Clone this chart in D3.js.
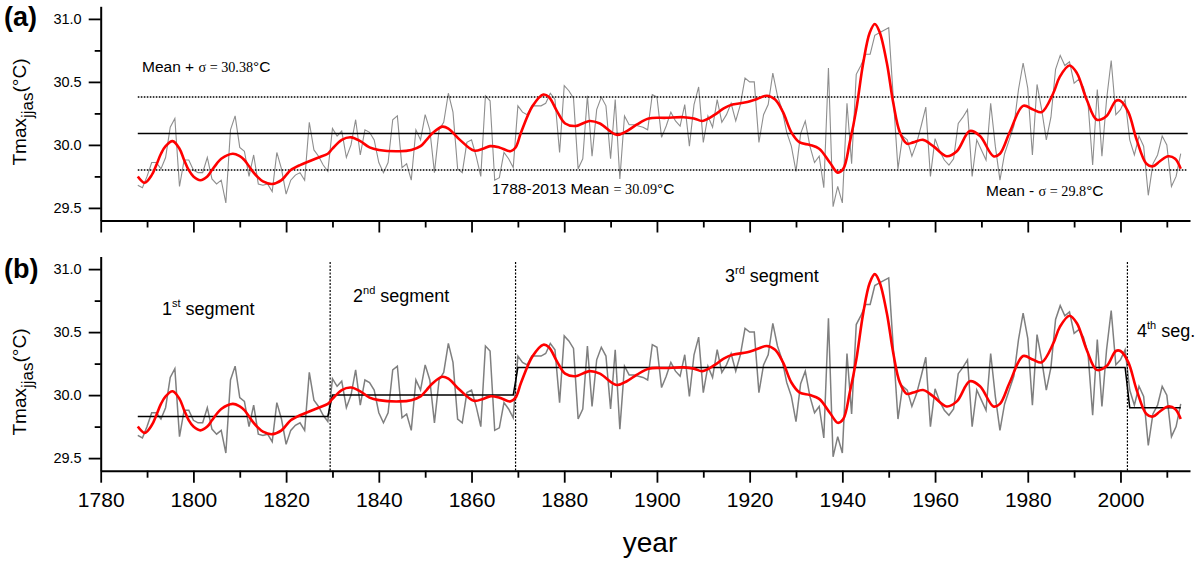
<!DOCTYPE html>
<html>
<head>
<meta charset="utf-8">
<script src="https://cdn.jsdelivr.net/npm/d3@7"></script>
<style>
  body { margin: 0; background: #fff; }
  svg { display: block; font-family: "Liberation Sans", Arial, sans-serif; }
  text { white-space: pre; }
</style>
</head>
<body>
<script>
// annual JJAS Tmax, 1788-2013
const firstYear = 1788;
const tmax = [
  29.68, 29.66,
  29.75, 29.86, 29.86, 29.81, 29.90, 30.14, 30.21, 29.67, 29.88, 29.88,
  29.80, 29.78, 29.78, 29.90, 29.73, 29.69, 29.72, 29.54, 30.12, 30.23,
  29.98, 29.95, 29.75, 29.92, 29.69, 29.68, 29.69, 29.63, 29.94, 29.81,
  29.61, 29.72, 29.76, 29.78, 29.72, 30.18, 29.96, 29.91, 29.84, 29.79,
  30.13, 30.07, 30.11, 29.90, 30.00, 30.20, 29.92, 30.12, 30.10, 30.04,
  29.86, 29.78, 29.86, 30.20, 30.23, 29.82, 29.85, 29.72, 30.12, 30.04,
  30.24, 30.12, 29.78, 30.12, 30.18, 30.41, 30.26, 29.81, 29.78, 30.02,
  30.04, 29.91, 29.75, 30.39, 30.35, 29.72, 29.74, 29.94, 29.89, 29.82,
  30.31, 30.26, 30.24, 30.31, 30.31, 30.31, 30.33, 30.41, 30.36, 29.94,
  30.47, 30.43, 30.37, 29.81, 29.89, 30.39, 29.91, 30.28, 30.38, 30.31,
  29.89, 30.36, 29.73, 30.23, 30.16, 30.16, 30.15, 30.14, 30.12, 30.40,
  30.38, 30.06, 30.15, 30.26, 30.19, 30.15, 30.32, 29.99, 30.32, 30.46,
  30.02, 30.23, 30.14, 30.36, 30.18, 30.24, 30.33, 30.19, 30.32, 30.53,
  30.50, 30.50, 30.02, 30.24, 30.32, 30.57, 30.39, 30.28, 30.10, 29.99,
  29.79, 30.09, 30.19, 29.99, 29.86, 29.91, 29.66, 30.61, 29.51, 29.67,
  29.54, 30.33, 29.85, 30.56, 30.63, 30.72, 30.72, 30.87, 30.89, 30.91,
  30.93, 30.37, 29.81, 30.07, 30.04, 29.91, 30.01, 30.15, 30.30, 29.75,
  30.05, 29.95, 29.88, 29.84, 29.89, 30.17, 30.22, 30.28, 29.75, 30.04,
  29.96, 29.88, 30.33, 29.99, 29.72, 29.93, 30.04, 30.15, 30.44, 30.65,
  30.45, 29.92, 30.48, 30.28, 30.04, 30.22, 30.60, 30.71, 30.63, 30.66,
  30.49, 30.52, 30.46, 30.33, 29.84, 30.44, 29.91, 30.36, 30.67, 30.24,
  30.28, 30.36, 30.04, 29.92, 30.07, 29.99, 29.60, 29.85, 29.92, 30.07,
  30.00, 29.67, 29.75, 29.93
];

// red smoothed curve, [year, value]
const smoothed = [
  [1788, 29.75], [1789.5, 29.70], [1791, 29.76], [1792, 29.84], [1793, 29.93],
  [1794, 29.99], [1795.5, 30.03], [1797, 29.97], [1798, 29.88], [1799, 29.80],
  [1800, 29.75], [1801.5, 29.72], [1803, 29.75], [1804, 29.80], [1805, 29.85],
  [1806, 29.89], [1808.5, 29.93], [1810, 29.91], [1811, 29.88], [1812, 29.83],
  [1813, 29.78], [1814, 29.74], [1815, 29.71], [1817, 29.69], [1819, 29.72],
  [1820, 29.76], [1821, 29.80], [1823, 29.84], [1825, 29.87], [1827, 29.90],
  [1829, 29.93], [1830, 29.97], [1832, 30.04], [1834, 30.06], [1836, 30.03],
  [1838, 29.98], [1840, 29.96], [1844.5, 29.95], [1847, 29.96], [1849, 29.99],
  [1850.3, 30.04], [1851.5, 30.09], [1853.7, 30.145], [1855, 30.13], [1857.5, 30.04],
  [1860.5, 29.955], [1862.5, 29.97], [1864, 29.99], [1866, 29.98], [1868.4, 29.95],
  [1869.5, 29.98], [1870.7, 30.10], [1873.2, 30.31], [1875.5, 30.40], [1876.7, 30.38],
  [1878.4, 30.27], [1880.2, 30.17], [1882.4, 30.15], [1885.5, 30.19], [1887.7, 30.17],
  [1891.3, 30.08], [1893.5, 30.11], [1895.6, 30.16], [1898.2, 30.21], [1902, 30.215],
  [1905.7, 30.22], [1908, 30.21], [1909.8, 30.19], [1912.5, 30.24], [1914.4, 30.29],
  [1916.3, 30.32], [1919.5, 30.34], [1921.6, 30.365], [1923.7, 30.39], [1925.5, 30.36],
  [1927.2, 30.26], [1929, 30.10], [1930.8, 30.02], [1933, 30.00], [1935, 29.97],
  [1937.3, 29.86], [1939, 29.78], [1940.2, 29.81], [1941.6, 30.02], [1943, 30.28],
  [1944.5, 30.65], [1945.9, 30.89], [1947, 30.96], [1948, 30.90], [1949.6, 30.65],
  [1951, 30.33], [1952.4, 30.10], [1953.9, 30.01], [1955.3, 30.02], [1957.4, 30.04],
  [1959.6, 29.99], [1962.5, 29.91], [1964.7, 29.95], [1967.5, 30.11], [1969.7, 30.07],
  [1972.6, 29.91], [1974, 29.93], [1976.1, 30.10], [1979, 30.31], [1981.2, 30.28],
  [1983, 30.26], [1985.5, 30.41], [1986.9, 30.54], [1989, 30.63], [1990.6, 30.57],
  [1992.7, 30.36], [1994.9, 30.20], [1997, 30.23], [1999, 30.35], [2000, 30.35],
  [2001.7, 30.26], [2003.5, 30.04], [2005.6, 29.85], [2007, 29.83], [2008.5, 29.87],
  [2010.3, 29.91], [2011.8, 29.89], [2013, 29.81]
];

// panel (a) reference levels
const meanAll = 30.09, meanPlus = 30.38, meanMinus = 29.80;

// panel (b) segments
const segStart = [1788, 1830, 1870, 2002];
const segEnd = [1829, 1869, 2001, 2013];
const segMean = [29.83, 30.00, 30.22, 29.90];
const breakYears = [1829.5, 1869.5, 2001.5];

const xMajor = [1780, 1800, 1820, 1840, 1860, 1880, 1900, 1920, 1940, 1960, 1980, 2000];
const xMinor = [1790, 1810, 1830, 1850, 1870, 1890, 1910, 1930, 1950, 1970, 1990, 2010];
const yMajor = [29.5, 30.0, 30.5, 31.0];
const yMinor = [29.75, 30.25, 30.75];

const width = 1200, height = 563;
const sans = '"Liberation Sans", Arial, sans-serif';
const serif = '"Liberation Serif", "Times New Roman", serif';

const svg = d3.select('body').append('svg')
    .attr('width', width)
    .attr('height', height);

const x = d3.scaleLinear().domain([1780, 2015]).range([100.7, 1190]);
const series = tmax.map((v, i) => [firstYear + i, v]);

function drawPanel(top, bottom, showLabels, grayColor, grayWidth) {
    const y = d3.scaleLinear().domain([29.4, 31.1]).range([bottom, top]);
    const g = svg.append('g');

    const xa = g.append('g')
        .attr('transform', `translate(0,${bottom})`)
        .call(d3.axisBottom(x).tickValues(xMajor).tickSize(12).tickSizeOuter(0)
            .tickPadding(9).tickFormat(showLabels ? d3.format('d') : ''));
    xa.attr('font-family', sans).attr('font-size', 21);
    g.append('g')
        .attr('transform', `translate(0,${bottom})`)
        .call(d3.axisBottom(x).tickValues(xMinor).tickSize(7).tickFormat(''))
        .call(s => s.select('.domain').remove());

    const ya = g.append('g')
        .attr('transform', 'translate(100.7,0)')
        .call(d3.axisLeft(y).tickValues(yMajor).tickSize(12).tickSizeOuter(0)
            .tickPadding(7).tickFormat(d3.format('.1f')));
    ya.attr('font-family', sans).attr('font-size', 14.5);
    g.append('g')
        .attr('transform', 'translate(100.7,0)')
        .call(d3.axisLeft(y).tickValues(yMinor).tickSize(6).tickFormat(''))
        .call(s => s.select('.domain').remove());

    g.selectAll('.domain').attr('stroke', '#000').attr('stroke-width', 2);
    g.selectAll('.tick line').attr('stroke', '#000').attr('stroke-width', 1.8);
    g.selectAll('.tick text').attr('fill', '#000');

    const line = d3.line().x(d => x(d[0])).y(d => y(d[1]));
    g.append('path')
        .datum(series)
        .attr('fill', 'none')
        .attr('stroke', grayColor)
        .attr('stroke-width', grayWidth)
        .attr('d', line);

    return { g, y, line };
}

function redCurve(p) {
    const smoothLine = d3.line()
        .x(d => x(d[0])).y(d => p.y(d[1]))
        .curve(d3.curveCatmullRom.alpha(0.5));
    p.g.append('path')
        .datum(smoothed)
        .attr('fill', 'none')
        .attr('stroke', '#ff0000')
        .attr('stroke-width', 2.6)
        .attr('d', smoothLine);
}

function yLabel(cx, cy) {
    const t = svg.append('text')
        .attr('transform', `translate(${cx},${cy}) rotate(-90)`)
        .attr('text-anchor', 'middle')
        .attr('font-family', sans)
        .attr('font-size', 19);
    t.append('tspan').text('Tmax');
    t.append('tspan').attr('font-size', 17).attr('dy', 7).text('jjas');
    t.append('tspan').attr('dy', -7).text('(°C)');
}

// ---------- panel (a) ----------
const pa = drawPanel(6.3, 220.5, false, '#8e8e8e', 1.1);

[meanPlus, meanMinus].forEach(v => {
    pa.g.append('line')
        .attr('x1', x(1788)).attr('x2', x(2014.5))
        .attr('y1', pa.y(v)).attr('y2', pa.y(v))
        .attr('stroke', '#000').attr('stroke-width', 1.5)
        .attr('stroke-dasharray', '1.6,1.4');
});
pa.g.append('line')
    .attr('x1', x(1788)).attr('x2', x(2014.5))
    .attr('y1', pa.y(meanAll)).attr('y2', pa.y(meanAll))
    .attr('stroke', '#000').attr('stroke-width', 1.5);

redCurve(pa);

function mixedLabel(px, py, pre, mid, post) {
    const t = svg.append('text')
        .attr('x', px).attr('y', py)
        .attr('font-family', sans).attr('font-size', 15.5);
    t.append('tspan').text(pre);
    t.append('tspan').attr('font-family', serif).attr('font-size', 14.2).text(mid);
    t.append('tspan').text(post);
}
mixedLabel(142, 71.5, 'Mean + ', 'σ = ' + meanPlus.toFixed(2), '°C');
mixedLabel(492, 194, '1788-2013 Mean ', '= ' + meanAll.toFixed(2), '°C');
mixedLabel(986, 195.5, 'Mean - ', 'σ = ' + meanMinus.toFixed(1), '°C');

svg.append('text')
    .attr('x', 4).attr('y', 26)
    .attr('font-family', sans).attr('font-weight', 'bold').attr('font-size', 27)
    .text('(a)');
yLabel(26, 112);

// ---------- panel (b) ----------
const pb = drawPanel(256.5, 470.7, true, '#7f7f7f', 1.5);

breakYears.forEach(yr => {
    pb.g.append('line')
        .attr('x1', x(yr)).attr('x2', x(yr))
        .attr('y1', 262).attr('y2', 470.7)
        .attr('stroke', '#000').attr('stroke-width', 1.2)
        .attr('stroke-dasharray', '2,1.5');
});

const steps = [];
segMean.forEach((m, i) => {
    steps.push([segStart[i], m]);
    steps.push([segEnd[i], m]);
});
pb.g.append('path')
    .datum(steps)
    .attr('fill', 'none')
    .attr('stroke', '#000')
    .attr('stroke-width', 1.5)
    .attr('d', pb.line);

redCurve(pb);

function segLabel(px, py, num, sup, rest) {
    const t = svg.append('text')
        .attr('x', px).attr('y', py)
        .attr('font-family', sans).attr('font-size', 18);
    t.append('tspan').text(num);
    t.append('tspan').attr('font-size', 11).attr('dy', -8).text(sup);
    t.append('tspan').attr('dy', 8).text(rest);
}
segLabel(162, 315, '1', 'st', ' segment');
segLabel(353, 302, '2', 'nd', ' segment');
segLabel(725, 282, '3', 'rd', ' segment');
segLabel(1137, 337, '4', 'th', ' seg.');

svg.append('text')
    .attr('x', 4).attr('y', 278)
    .attr('font-family', sans).attr('font-weight', 'bold').attr('font-size', 27)
    .text('(b)');
yLabel(26, 382);

svg.append('text')
    .attr('x', 650).attr('y', 552)
    .attr('text-anchor', 'middle')
    .attr('font-family', sans).attr('font-size', 28)
    .text('year');
</script>
</body>
</html>
